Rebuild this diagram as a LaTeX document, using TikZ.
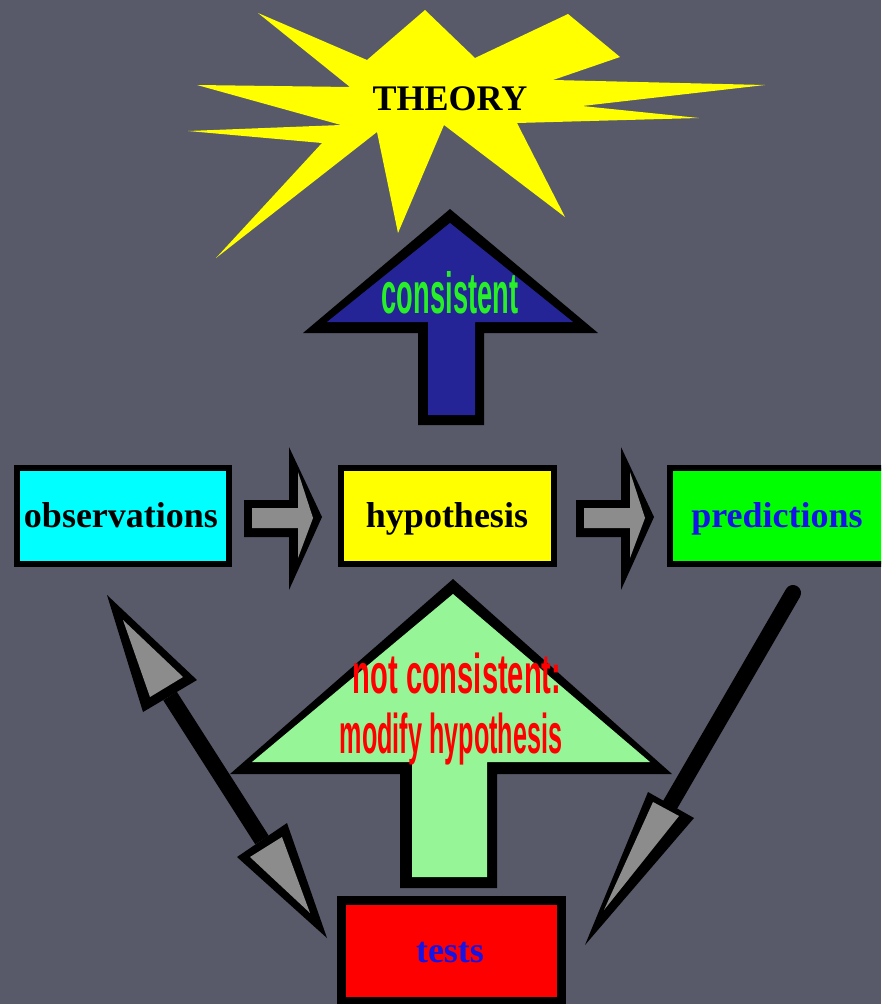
\documentclass[tikz,border=0pt]{standalone}
\usepackage{fontspec}
\setmainfont{Liberation Serif}
\newfontfamily\condsans{Liberation Sans}
\usepackage{graphicx}
\definecolor{bgcol}{RGB}{88,90,106}
\definecolor{staryellow}{RGB}{255,255,0}
\definecolor{navyfill}{RGB}{36,36,150}
\definecolor{arrowgray}{RGB}{140,140,140}
\definecolor{palegreenfill}{RGB}{150,245,150}
\definecolor{cyanfill}{RGB}{0,255,255}
\definecolor{yellowfill}{RGB}{255,255,0}
\definecolor{greenfill}{RGB}{0,255,0}
\definecolor{redfill}{RGB}{255,0,0}
\definecolor{bluetext}{RGB}{20,20,230}
\definecolor{greentext}{RGB}{40,240,40}
\definecolor{redtext}{RGB}{255,0,0}
\tikzset{
  boxlabel/.style={anchor=base, font=\fontsize{36}{40}\selectfont\bfseries, inner sep=0pt},
  condlabel/.style={anchor=base, inner sep=0pt},
  outline/.style={fill=black},
  labelbox/.style={draw=black, line width=6pt},
  shaftline/.style={draw=black, line width=16pt},
}
\newcommand{\cond}[3]{\scalebox{#1}[1]{\condsans\bfseries\fontsize{#2}{#2}\selectfont #3}}
\begin{document}
\begin{tikzpicture}[x=1pt,y=-1pt]
\useasboundingbox (0,0) rectangle (881,1004);
\fill[bgcol] (0,0) rectangle (881,1004);
\clip (0,0) rectangle (881,1004);

% star
\fill[staryellow] (258,13) -- (367,60) -- (425,10) -- (475,58) -- (568,14) -- (620,57) -- (553,80)
  -- (765,85) -- (582,106) -- (699,118) -- (517,123) -- (565,217) -- (444,125) -- (398,233)
  -- (377,132) -- (216,258) -- (322,143) -- (188,131) -- (341,125) -- (197,85) -- (350,87) -- cycle;
\node[boxlabel] (theory) at (450,110) {THEORY};

% consistent arrow
\fill[outline] (450,209) -- (303,333) -- (418,333) -- (418,425) -- (484,425) -- (484,333) -- (598,333) -- cycle;
\fill[navyfill] (450,223) -- (327,322) -- (428,322) -- (428,415) -- (475,415) -- (475,322) -- (573,322) -- cycle;
\node[condlabel, text=greentext] (cons) at (450,313) {\cond{0.47}{58}{consistent}};

% boxes
\filldraw[labelbox, fill=cyanfill] (17,468) rectangle (229,564);
\node[boxlabel] (obs) at (121,527) {observations};
\filldraw[labelbox, fill=yellowfill] (341,468) rectangle (554,564);
\node[boxlabel] (hyp) at (447,527) {hypothesis};
\filldraw[labelbox, fill=greenfill] (670,468) rectangle (895,564);
\node[boxlabel, text=bluetext] (pred) at (777,527) {predictions};

% gray block arrows
\foreach \dx in {0,332}{
  \begin{scope}[xshift=\dx pt]
  \fill[outline] (244,500) -- (289,500) -- (289,447) -- (322,517) -- (289,590) -- (289,537) -- (244,537) -- cycle;
  \fill[arrowgray] (252,508) -- (298,508) -- (298,472) -- (313,518) -- (298,558) -- (298,528) -- (252,528) -- cycle;
  \end{scope}
}

% not consistent arrow
\fill[outline] (453,579) -- (230,774) -- (400,774) -- (400,888) -- (497,888) -- (497,774) -- (672,774) -- cycle;
\fill[palegreenfill] (453,594) -- (252,762) -- (412,762) -- (412,877) -- (487,877) -- (487,762) -- (650,762) -- cycle;
\node[condlabel, text=redtext] (nc1) at (457,693) {\cond{0.52}{56}{not consistent:}};
\node[condlabel, text=redtext] (nc2) at (451,753) {\cond{0.45}{56}{modify hypothesis}};

% tests box
\filldraw[labelbox, line width=9pt, fill=redfill] (341,900) rectangle (561,1001);
\node[boxlabel, text=bluetext] (tests) at (450,962) {tests};

% left double arrow
\coordinate (la) at (170,696);
\coordinate (lb) at (262,840);
\draw[shaftline] (la) -- (lb);
\fill[outline] (107,595) -- (197,680) -- (143,712) -- cycle;
\fill[arrowgray] (123,620) -- (183,677) -- (150,697) -- cycle;
\fill[outline] (327,938) -- (287,823) -- (237,857) -- cycle;
\fill[arrowgray] (310,913) -- (282,837) -- (250,857) -- cycle;

% right arrow
\coordinate (ra) at (793,593);
\coordinate (rb) at (670,805);
\draw[shaftline, line cap=round] (ra) -- (rb);
\fill[outline] (585,945) -- (648,792) -- (694,818) -- cycle;
\fill[arrowgray] (604,910) -- (653,802) -- (679,816) -- cycle;
\end{tikzpicture}
\end{document}
